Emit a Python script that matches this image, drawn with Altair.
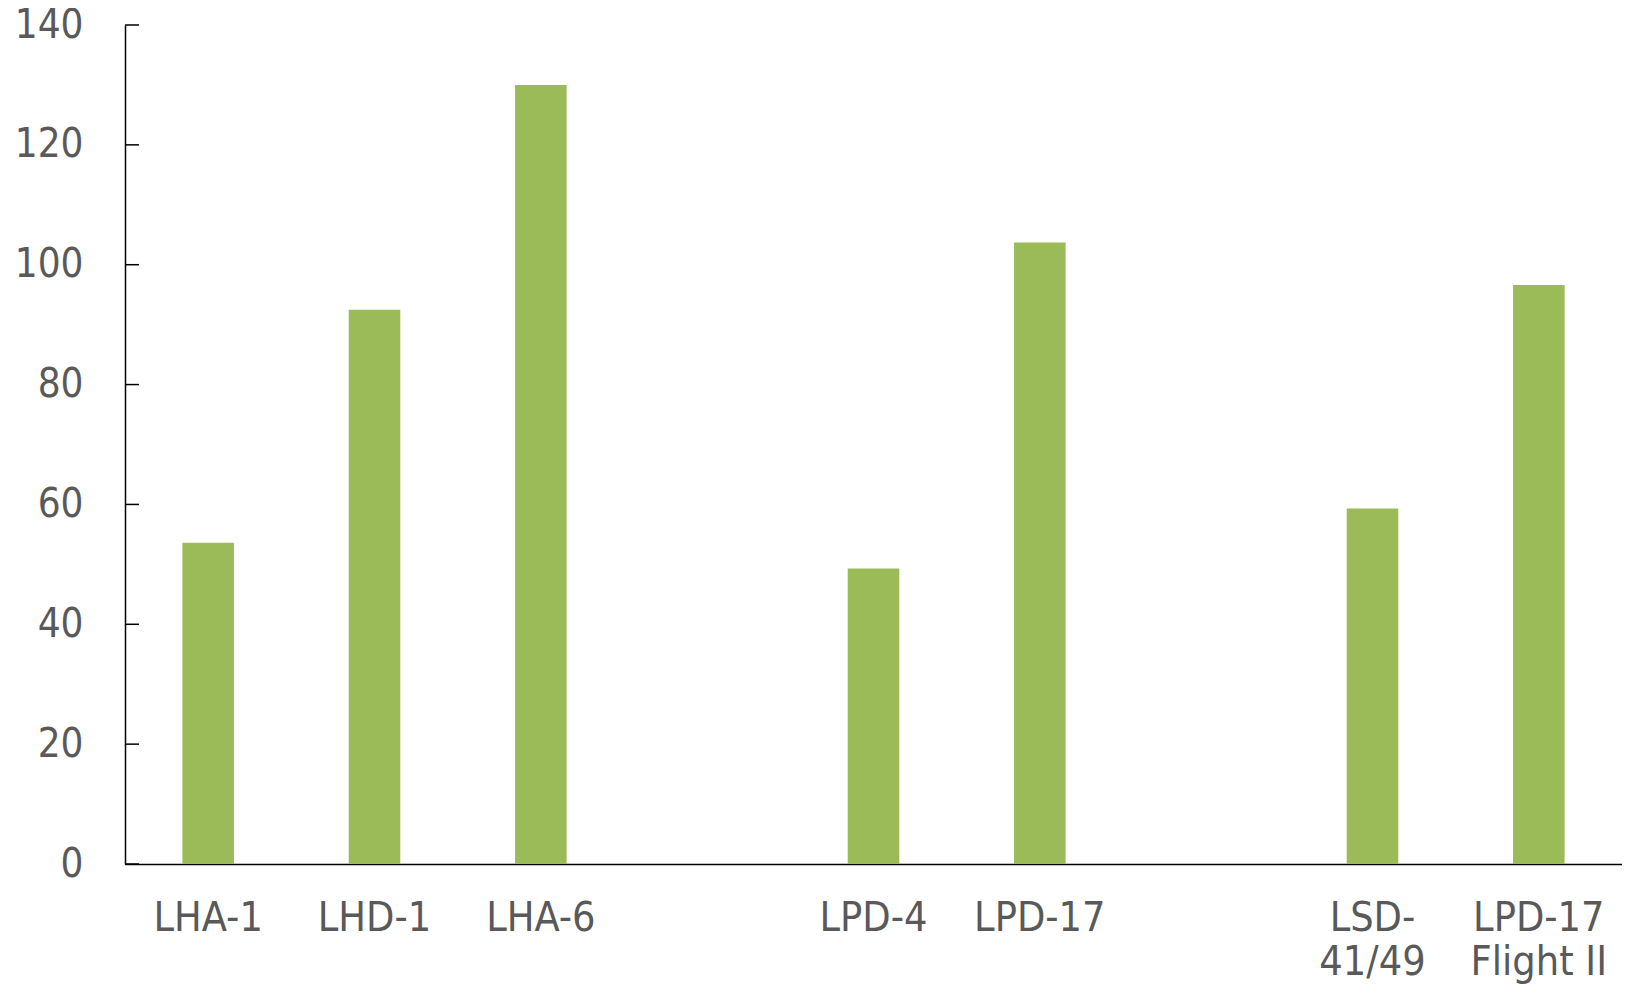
import altair as alt
import pandas as pd

categories = ["LHA-1", "LHD-1", "LHA-6", "gap1", "LPD-4", "LPD-17", "gap2",
              "LSD-|41/49", "LPD-17|Flight II"]
values = [53.6, 92.5, 130.0, None, 49.3, 103.7, None, 59.3, 96.6]
y_ticks = [0, 20, 40, 60, 80, 100, 120, 140]

df = pd.DataFrame({"ship": categories, "value": values}).dropna()
ticks_df = pd.DataFrame({"t": y_ticks})

FONT = "DejaVu Sans Condensed"
GRAY = "#595959"

x_enc = alt.X(
    "ship:N",
    scale=alt.Scale(domain=categories, paddingInner=0.69, paddingOuter=0.345),
    axis=alt.Axis(
        title=None, labelAngle=0, ticks=False, domain=True, domainColor="black",
        domainWidth=1.5, labelFont=FONT, labelFontSize=41, labelColor=GRAY,
        labelPadding=34, labelLineHeight=44, labelAlign="center",
        labelExpr="indexof(datum.label, 'gap') == 0 ? '' : split(datum.label, '|')",
    ),
)
y_scale = alt.Scale(domain=[0, 140], nice=False)

bars = alt.Chart(df).mark_bar(color="#9BBB59").encode(
    x=x_enc,
    y=alt.Y(
        "value:Q", scale=y_scale,
        axis=alt.Axis(
            title=None, values=y_ticks, grid=False, ticks=False, domainColor="black",
            domainWidth=1.5, labelFont=FONT, labelFontSize=40, labelColor=GRAY,
            labelPadding=42,
        ),
    ),
)

tick_marks = alt.Chart(ticks_df).mark_rule(color="black", strokeWidth=1.5).encode(
    y=alt.Y("t:Q", scale=y_scale),
    x=alt.value(0),
    x2=alt.value(14),
)

chart = alt.layer(bars, tick_marks).properties(
    width=1497, height=839,
    background="white",
    autosize=alt.AutoSizeParams(type="none"),
    padding={"left": 117, "top": 17, "right": 0, "bottom": 122},
).configure_view(strokeWidth=0, stroke=None)

chart.save("out.html", embed_options={"renderer": "svg", "actions": False})
